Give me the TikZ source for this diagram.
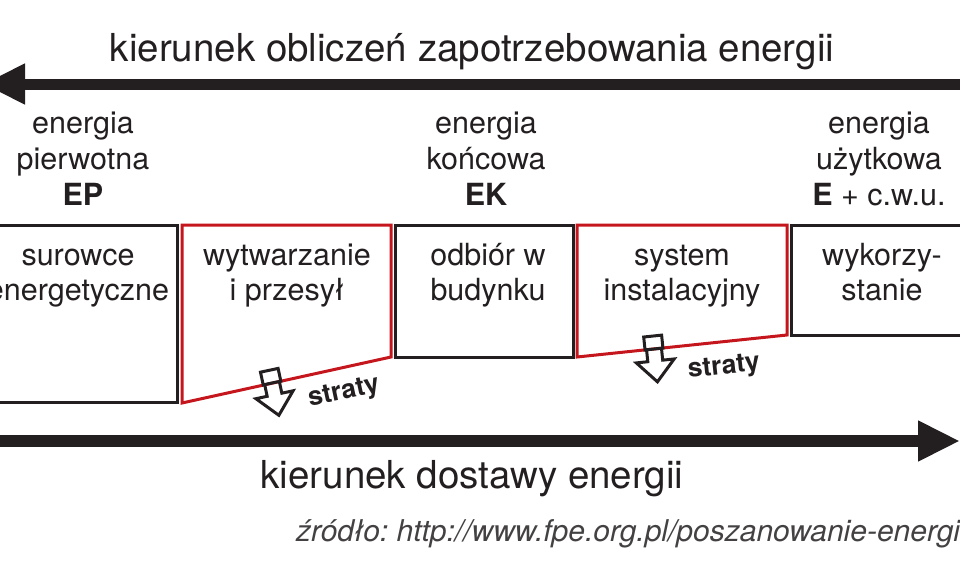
\documentclass[tikz,border=0pt]{standalone}
\usepackage{fontspec}
\setmainfont{TeX Gyre Heros}
\usetikzlibrary{arrows.meta}
\definecolor{inkblack}{HTML}{231F20}
\definecolor{lossred}{HTML}{C4161C}
\tikzstyle{block} = [draw=inkblack, line width=3pt]
\tikzstyle{lossblock} = [draw=lossred, line width=3pt]
\tikzstyle{arrow} = [draw=inkblack, line width=11pt, -{Triangle[length=42pt,width=38pt]}]
\tikzstyle{heading} = [text=inkblack, font=\fontsize{38.5}{44}\selectfont, anchor=base, inner sep=0pt]
\tikzstyle{boxtext} = [text=inkblack, font=\fontsize{30.5}{35}\selectfont, align=center, anchor=base, inner sep=0pt]
\tikzstyle{energytext} = [text=inkblack, font=\fontsize{30.5}{36}\selectfont, align=center, anchor=base, inner sep=0pt]
\tikzstyle{losstext} = [text=inkblack, font=\fontsize{26.5}{30}\selectfont\bfseries, inner sep=0pt]
\tikzstyle{sourcetext} = [text=inkblack!85, font=\fontsize{30}{34}\selectfont\itshape\frenchspacing, anchor=base west, inner sep=0pt]
\tikzset{
  loss/.pic={
    \draw [draw=inkblack, line width=3pt] (-9,-13) rectangle (9,0);
    \draw [draw=inkblack, line width=3pt] (-7.5,0) -- (-7.5,12) -- (-19,12) -- (0,33) -- (19,12) -- (7.5,12) -- (7.5,0);
  }
}

\begin{document}
\begin{tikzpicture}[x=1pt, y=-1pt]
    \useasboundingbox (0,0) rectangle (960,576);
    \clip (0,0) rectangle (960,576);

    % direction of calculation
    \coordinate (calcstart) at (960,84);
    \coordinate (calcend) at (-17,84);
    \draw [arrow] (calcstart) -- (calcend);
    \node (calc) [heading] at (472,61) {kierunek obliczeń zapotrzebowania energii};

    % energy levels (anchor on the last line)
    \node (ep) [energytext] at (83,205) {energia\\pierwotna\\\textbf{EP}};
    \node (ek) [energytext] at (486,205) {energia\\końcowa\\\textbf{EK}};
    \node (eu) [energytext] at (879,205) {energia\\użytkowa\\\textbf{E} + c.w.u.};

    % stages
    \draw [block] (-20,225) rectangle (177,402);
    \draw [lossblock] (182,225) -- (391,225) -- (391,357) -- (182,403) -- cycle;
    \draw [block] (395,225) rectangle (573,357);
    \draw [lossblock] (577,225) -- (787,225) -- (787,335) -- (577,357) -- cycle;
    \draw [block] (791,225) rectangle (990,335);

    \node (raw) [boxtext] at (78,300) {surowce\\energetyczne};
    \node (gen) [boxtext] at (287,300) {wytwarzanie\\i przesył};
    \node (recv) [boxtext] at (488,300) {odbiór w\\budynku};
    \node (inst) [boxtext] at (682,300) {system\\instalacyjny};
    \node (use) [boxtext] at (882,300) {wykorzy-\\stanie};

    % losses
    \pic [rotate=12] at (272,383) {loss};
    \node (loss1) [losstext, rotate=12] at (344,393) {straty};
    \pic [rotate=6] at (654,349) {loss};
    \node (loss2) [losstext, rotate=6] at (724,368) {straty};

    % direction of supply
    \coordinate (supplystart) at (-5,441);
    \coordinate (supplyend) at (960,441);
    \draw [arrow, line width=12pt] (supplystart) -- (supplyend);
    \node (supply) [heading] at (472,488) {kierunek dostawy energii};

    \node (source) [sourcetext] at (296,541) {źródło: http://www.fpe.org.pl/poszanowanie-energii};
\end{tikzpicture}
\end{document}
